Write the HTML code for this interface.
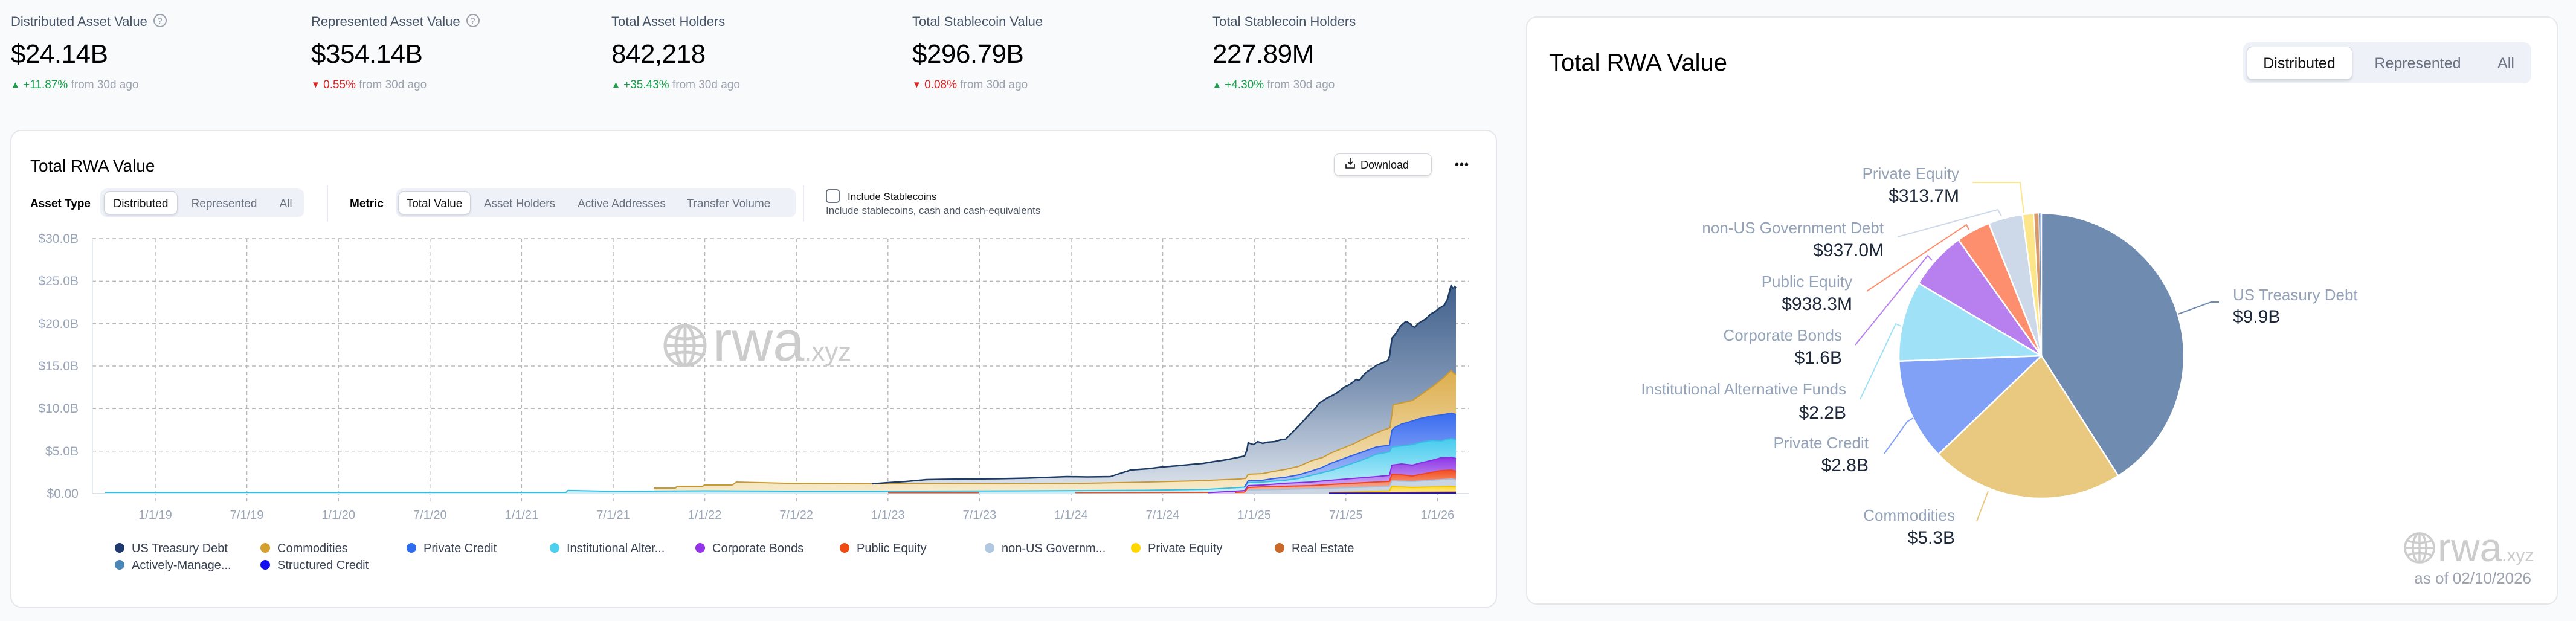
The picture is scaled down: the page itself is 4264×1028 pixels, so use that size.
<!DOCTYPE html>
<html><head><meta charset="utf-8">
<style>
*{margin:0;padding:0;box-sizing:border-box}
html,body{width:4264px;height:1028px;overflow:hidden;background:#f8fafc;font-family:"Liberation Sans",Arial,sans-serif}
.a{position:absolute;white-space:nowrap;line-height:1}
.lbl{font-size:22px;color:#475569}
.val{font-size:44px;color:#000;letter-spacing:-0.5px}
.chg{font-size:19px;color:#9ca3af}
.up{color:#16a34a}.dn{color:#dc2626}
.tri{font-size:15px;position:relative;top:-1px}
.card{position:absolute;background:#fff;border:2px solid #e5e7eb;border-radius:18px}
.q{display:inline-block;width:22px;height:22px;border:2px solid #9ca3af;border-radius:50%;font-size:14px;line-height:18px;text-align:center;color:#9ca3af;vertical-align:middle;margin-left:10px;position:relative;top:-3px}
.grp{position:absolute;background:#eef2f8;border-radius:12px}
.btn{position:absolute;background:#fff;border:1.5px solid #cfd5dd;border-radius:9px;box-shadow:0 2px 3px rgba(0,0,0,.12)}
.t19{font-size:19px}
.c{transform:translateX(-50%)}
.gray{color:#6b7280}
</style></head><body>

<!-- top stats -->
<div class="a lbl" style="left:18px;top:25px">Distributed Asset Value<span class="q">?</span></div>
<div class="a val" style="left:18px;top:68px">$24.14B</div>
<div class="a chg" style="left:18px;top:131px"><span class="up"><span class="tri">▲</span> +11.87%</span> from 30d ago</div>

<div class="a lbl" style="left:515px;top:25px">Represented Asset Value<span class="q">?</span></div>
<div class="a val" style="left:515px;top:68px">$354.14B</div>
<div class="a chg" style="left:515px;top:131px"><span class="dn"><span class="tri">▼</span> 0.55%</span> from 30d ago</div>

<div class="a lbl" style="left:1012px;top:25px">Total Asset Holders</div>
<div class="a val" style="left:1012px;top:68px">842,218</div>
<div class="a chg" style="left:1012px;top:131px"><span class="up"><span class="tri">▲</span> +35.43%</span> from 30d ago</div>

<div class="a lbl" style="left:1510px;top:25px">Total Stablecoin Value</div>
<div class="a val" style="left:1510px;top:68px">$296.79B</div>
<div class="a chg" style="left:1510px;top:131px"><span class="dn"><span class="tri">▼</span> 0.08%</span> from 30d ago</div>

<div class="a lbl" style="left:2007px;top:25px">Total Stablecoin Holders</div>
<div class="a val" style="left:2007px;top:68px">227.89M</div>
<div class="a chg" style="left:2007px;top:131px"><span class="up"><span class="tri">▲</span> +4.30%</span> from 30d ago</div>

<!-- cards -->
<div class="card" style="left:17px;top:215px;width:2461px;height:791px"></div>
<div class="card" style="left:2526px;top:27px;width:1708px;height:974px"></div>

<!-- left card header -->
<div class="a" style="left:50px;top:261px;font-size:28px;color:#000">Total RWA Value</div>

<div class="a t19" style="left:50px;top:328px;font-weight:bold;color:#000">Asset Type</div>
<div class="grp" style="left:166px;top:312px;width:338px;height:48px"></div>
<div class="btn" style="left:172px;top:317px;width:122px;height:38px"></div>
<div class="a t19 c" style="left:233px;top:328px;color:#111">Distributed</div>
<div class="a t19 c gray" style="left:371px;top:328px">Represented</div>
<div class="a t19 c gray" style="left:473px;top:328px">All</div>

<div class="a" style="left:541px;top:307px;width:2px;height:60px;background:#e8ebf0"></div>

<div class="a t19" style="left:579px;top:328px;font-weight:bold;color:#000">Metric</div>
<div class="grp" style="left:655px;top:312px;width:663px;height:48px"></div>
<div class="btn" style="left:659px;top:317px;width:120px;height:38px"></div>
<div class="a t19 c" style="left:719px;top:328px;color:#111">Total Value</div>
<div class="a t19 c gray" style="left:860px;top:328px">Asset Holders</div>
<div class="a t19 c gray" style="left:1029px;top:328px">Active Addresses</div>
<div class="a t19 c gray" style="left:1206px;top:328px">Transfer Volume</div>

<div class="a" style="left:1329px;top:307px;width:2px;height:60px;background:#e8ebf0"></div>
<div class="a" style="left:1367px;top:313px;width:23px;height:23px;border:2px solid #6b7280;border-radius:5px;background:#fff"></div>
<div class="a" style="left:1403px;top:317px;font-size:17px;color:#111">Include Stablecoins</div>
<div class="a" style="left:1367px;top:340px;font-size:17px;color:#4b5563">Include stablecoins, cash and cash-equivalents</div>

<div class="btn" style="left:2208px;top:254px;width:162px;height:37px"></div>
<div class="a" style="left:2252px;top:264px;font-size:18px;color:#111">Download</div>
<svg class="a" style="left:2226px;top:261px" width="18" height="20" viewBox="0 0 18 20"><path d="M9 1v10M5 7l4 4 4-4M2 11v6h14v-6" fill="none" stroke="#111" stroke-width="1.6"/></svg>
<div class="a" style="left:2408px;top:263px;font-size:20px;color:#111;letter-spacing:1px">•••</div>

<!-- right card header -->
<div class="a" style="left:2564px;top:84px;font-size:40px;color:#000">Total RWA Value</div>
<div class="grp" style="left:3713px;top:70px;width:477px;height:68px"></div>
<div class="btn" style="left:3719px;top:77px;width:175px;height:55px"></div>
<div class="a c" style="left:3806px;top:93px;font-size:25px;color:#111">Distributed</div>
<div class="a c gray" style="left:4002px;top:93px;font-size:25px">Represented</div>
<div class="a c gray" style="left:4148px;top:93px;font-size:25px">All</div>

<svg class="a" style="left:0;top:0" width="4264" height="1028" viewBox="0 0 4264 1028" font-family="Liberation Sans, Arial, sans-serif">
<defs>
<linearGradient id="gT" gradientUnits="userSpaceOnUse" x1="0" y1="470" x2="0" y2="817">
<stop offset="0" stop-color="#3f5f8b"/><stop offset="0.5" stop-color="#8197b6"/><stop offset="1" stop-color="#e0e6ee"/></linearGradient>
<linearGradient id="gC" gradientUnits="userSpaceOnUse" x1="0" y1="610" x2="0" y2="817">
<stop offset="0" stop-color="#dcad4c"/><stop offset="1" stop-color="#f8ebcb"/></linearGradient>
<linearGradient id="gP" gradientUnits="userSpaceOnUse" x1="0" y1="685" x2="0" y2="817">
<stop offset="0" stop-color="#3a6cf0"/><stop offset="1" stop-color="#bccdfa"/></linearGradient>
<linearGradient id="gI" gradientUnits="userSpaceOnUse" x1="0" y1="725" x2="0" y2="817">
<stop offset="0" stop-color="#45cbee"/><stop offset="1" stop-color="#c9f0fa"/></linearGradient>
<linearGradient id="gU" gradientUnits="userSpaceOnUse" x1="0" y1="757" x2="0" y2="817">
<stop offset="0" stop-color="#8e35e6"/><stop offset="1" stop-color="#dfc6f6"/></linearGradient>
<linearGradient id="gR" gradientUnits="userSpaceOnUse" x1="0" y1="778" x2="0" y2="817">
<stop offset="0" stop-color="#f24d1e"/><stop offset="1" stop-color="#f9c6b4"/></linearGradient>
<linearGradient id="gE" gradientUnits="userSpaceOnUse" x1="0" y1="805" x2="0" y2="817">
<stop offset="0" stop-color="#ffd62e"/><stop offset="1" stop-color="#fff0a6"/></linearGradient>
</defs>

<!-- grid -->
<g stroke="#b8b8b8" stroke-width="1.4" stroke-dasharray="6 5" fill="none">
<path d="M153,395H2432M153,465.3H2432M153,535.7H2432M153,606H2432M153,676.3H2432M153,746.7H2432"/>
<path d="M257,395V832M408.6,395V832M560.2,395V832M711.8,395V832M863.4,395V832M1015,395V832M1166.6,395V832M1318.2,395V832M1469.8,395V832M1621.4,395V832M1773,395V832M1924.6,395V832M2076.2,395V832M2227.8,395V832M2379.4,395V832"/>
</g>
<path d="M153,395V817" stroke="#dbe6f0" stroke-width="1.5"/>
<path d="M153,817H2432" stroke="#dde2e8" stroke-width="2"/>

<!-- watermark -->
<g stroke="#cdcdcd" stroke-width="5" fill="none">
<circle cx="1134" cy="572" r="33"/>
<ellipse cx="1134" cy="572" rx="15" ry="33"/>
<path d="M1134,539V605M1101,572H1167M1106,556Q1134,566 1162,556M1106,588Q1134,578 1162,588"/>
</g>
<text x="1180" y="597" font-size="94" fill="#cccccc">rwa</text>
<text x="1331" y="597" font-size="44" fill="#cccccc">.xyz</text>

<!-- y labels -->
<g font-size="21" fill="#9aa6b8" text-anchor="end">
<text x="130" y="402">$30.0B</text>
<text x="130" y="472">$25.0B</text>
<text x="130" y="543">$20.0B</text>
<text x="130" y="613">$15.0B</text>
<text x="130" y="683">$10.0B</text>
<text x="130" y="754">$5.0B</text>
<text x="130" y="824">$0.00</text>
</g>
<!-- x labels -->
<g font-size="20" fill="#9aa6b8" text-anchor="middle">
<text x="257" y="859">1/1/19</text><text x="408.6" y="859">7/1/19</text><text x="560.2" y="859">1/1/20</text><text x="711.8" y="859">7/1/20</text><text x="863.4" y="859">1/1/21</text><text x="1015" y="859">7/1/21</text><text x="1166.6" y="859">1/1/22</text><text x="1318.2" y="859">7/1/22</text><text x="1469.8" y="859">1/1/23</text><text x="1621.4" y="859">7/1/23</text><text x="1773" y="859">1/1/24</text><text x="1924.6" y="859">7/1/24</text><text x="2076.2" y="859">1/1/25</text><text x="2227.8" y="859">7/1/25</text><text x="2379.4" y="859">1/1/26</text>
</g>

<!-- areas -->
<path fill="url(#gT)" d="M1082,817 L1082,808 1118,808 1121,805 1163,805 1166,803 1212,803 1219,798 1260,799 1300,800 1380,800.5 1443,801 1470,799 1500,797 1533,794 1560,793.5 1600,793 1650,792.5 1700,791.5 1740,790 1766,789 1800,789.5 1838,789 1850,785 1872,778 1900,776 1924,773 1950,771 1970,769 1992,767 2010,764 2030,761 2045,758 2060,755 2064,745 2066,733 2075,736 2082,731 2090,734 2098,732 2110,731 2120,728 2128,727 2135,720 2142,713 2150,705 2160,694 2170,683 2177,676 2184,667 2195,660 2205,655 2215,649 2225,641 2233,637 2240,632 2245,628 2250,630 2256,622 2263,615 2271,610 2280,604 2290,600 2297,597 2300,590 2304,560 2310,553 2318,540 2327,532 2333,535 2338,540 2342,542 2347,536 2353,532 2360,528 2368,520 2375,516 2383,510 2391,505 2396,495 2400,480 2402,472 2405,478 2408,474 2410,477 L2410,817 Z"/>
<path fill="url(#gC)" d="M1082,817 L1082,808 1118,808 1121,805 1163,805 1166,803 1212,803 1219,798 1260,799 1300,800 1443,801 1533,800.5 1700,801 1800,800 1902,798 1980,796 2052,793 2062,792 2066,785 2090,784 2110,780 2128,777 2150,772 2170,763 2190,757 2203,750 2220,743 2240,735 2256,727 2275,718 2290,712 2301,708 2306,670 2320,667 2338,663 2350,655 2361,647 2375,637 2390,625 2402,613 2406,618 2410,620 L2410,817 Z"/>
<path fill="url(#gP)" d="M2055,817 L2055,807 2060,806 2066,796 2090,795 2110,792 2128,790 2150,786 2170,780 2188,774 2203,767 2230,757 2256,748 2278,740 2300,737 2304,712 2308,708 2320,702 2338,697 2350,693 2368,689 2385,687 2402,684 2410,686 L2410,817 Z"/>
<path fill="url(#gI)" d="M174,817 L174,815 937,815 940,811.7 1010,813.3 1166,812.5 1300,813 1500,813 1700,812.5 1900,811.5 2000,810 2052,807 2060,806.5 2066,799 2090,798 2128,795 2150,792 2170,787 2203,779 2230,770 2256,761 2278,752 2300,748 2304,740 2320,738 2338,736 2353,732 2370,729 2385,730 2402,726 2410,728 L2410,817 Z"/>
<path fill="url(#gU)" d="M2000,817 L2000,815.5 2045,813 2060,812 2066,804 2090,803 2128,800 2170,798 2203,795 2240,792 2278,789 2300,787 2304,770 2320,768 2338,770 2353,766 2370,762 2385,758 2402,757 2410,759 L2410,817 Z"/>
<path fill="url(#gR)" d="M2045,817 L2045,815 2060,814.5 2066,807 2090,806 2128,805 2170,804 2203,802 2240,800 2278,798 2300,797 2304,785 2320,786 2338,788 2353,785 2370,782 2385,779 2402,778 2410,780 L2410,817 Z"/>
<path fill="#c9d5e3" d="M2060,817 L2060,816 2066,811 2128,810 2203,808 2278,806 2300,805 2304,796 2338,797 2370,795 2402,793 2410,794 L2410,817 Z"/>
<path fill="url(#gE)" d="M2200,817 L2200,815.5 2278,813 2300,812.5 2304,805 2338,807 2370,806 2402,805 2410,806 L2410,817 Z"/>

<!-- lines -->
<g fill="none" stroke-width="2" stroke-linejoin="round">
<polyline stroke="#38bde0" points="174,815 937,815 940,811.7 1010,813.3 1166,812.5 1300,813 1500,813 1700,812.5 1900,811.5 2000,810 2052,807 2060,806.5 2066,799 2090,798 2128,795 2150,792 2170,787 2203,779 2230,770 2256,761 2278,752 2300,748 2304,740 2320,738 2338,736 2353,732 2370,729 2385,730 2402,726 2410,728"/>
<polyline stroke="#c99a34" points="1082,808 1118,808 1121,805 1163,805 1166,803 1212,803 1219,798 1260,799 1300,800 1443,801 1533,800.5 1700,801 1800,800 1902,798 1980,796 2052,793 2062,792 2066,785 2090,784 2110,780 2128,777 2150,772 2170,763 2190,757 2203,750 2220,743 2240,735 2256,727 2275,718 2290,712 2301,708 2306,670 2320,667 2338,663 2350,655 2361,647 2375,637 2390,625 2402,613 2406,618 2410,620"/>
<polyline stroke="#1d3b63" stroke-width="2.5" points="1443,801 1470,799 1500,797 1533,794 1560,793.5 1600,793 1650,792.5 1700,791.5 1740,790 1766,789 1800,789.5 1838,789 1850,785 1872,778 1900,776 1924,773 1950,771 1970,769 1992,767 2010,764 2030,761 2045,758 2060,755 2064,745 2066,733 2075,736 2082,731 2090,734 2098,732 2110,731 2120,728 2128,727 2135,720 2142,713 2150,705 2160,694 2170,683 2177,676 2184,667 2195,660 2205,655 2215,649 2225,641 2233,637 2240,632 2245,628 2250,630 2256,622 2263,615 2271,610 2280,604 2290,600 2297,597 2300,590 2304,560 2310,553 2318,540 2327,532 2333,535 2338,540 2342,542 2347,536 2353,532 2360,528 2368,520 2375,516 2383,510 2391,505 2396,495 2400,480 2402,472 2405,478 2408,474 2410,477"/>
<polyline stroke="#2f62e8" points="2060,806 2066,796 2090,795 2110,792 2128,790 2150,786 2170,780 2188,774 2203,767 2230,757 2256,748 2278,740 2300,737 2304,712 2308,708 2320,702 2338,697 2350,693 2368,689 2385,687 2402,684 2410,686"/>
<polyline stroke="#8a2be2" points="2000,815.5 2045,813 2060,812 2066,804 2090,803 2128,800 2170,798 2203,795 2240,792 2278,789 2300,787 2304,770 2320,768 2338,770 2353,766 2370,762 2385,758 2402,757 2410,759"/>
<polyline stroke="#ee4420" points="2045,815 2060,814.5 2066,807 2090,806 2128,805 2170,804 2203,802 2240,800 2278,798 2300,797 2304,785 2320,786 2338,788 2353,785 2370,782 2385,779 2402,778 2410,780"/>
<polyline stroke="#aabfd8" points="2066,811 2128,810 2203,808 2278,806 2300,805 2304,796 2338,797 2370,795 2402,793 2410,794"/>
<polyline stroke="#f5c800" points="2200,815.5 2278,813 2300,812.5 2304,805 2338,807 2370,806 2402,805 2410,806"/>
<polyline stroke="#c8692a" points="2200,815.5 2410,814.5"/>
<polyline stroke="#1010f0" points="2200,816.5 2410,816"/>
<polyline stroke="#e0532c" points="1470,815.5 1620,815.5"/>
<polyline stroke="#e0532c" points="1780,815.5 2000,815"/>
</g>

<!-- legend -->
<g font-size="20" fill="#374151">
<circle cx="198" cy="907" r="8" fill="#1e3a6e"/><text x="218" y="914">US Treasury Debt</text>
<circle cx="439" cy="907" r="8" fill="#d4a030"/><text x="459" y="914">Commodities</text>
<circle cx="681" cy="907" r="8" fill="#2f6bef"/><text x="701" y="914">Private Credit</text>
<circle cx="918" cy="907" r="8" fill="#4dcfee"/><text x="938" y="914">Institutional Alter...</text>
<circle cx="1159" cy="907" r="8" fill="#9333ea"/><text x="1179" y="914">Corporate Bonds</text>
<circle cx="1398" cy="907" r="8" fill="#ee4b14"/><text x="1418" y="914">Public Equity</text>
<circle cx="1638" cy="907" r="8" fill="#b0c8e0"/><text x="1658" y="914">non-US Governm...</text>
<circle cx="1880" cy="907" r="8" fill="#ffd600"/><text x="1900" y="914">Private Equity</text>
<circle cx="2118" cy="907" r="8" fill="#c8692a"/><text x="2138" y="914">Real Estate</text>
<circle cx="198" cy="935" r="8" fill="#4a86b5"/><text x="218" y="942">Actively-Manage...</text>
<circle cx="439" cy="935" r="8" fill="#1010f0"/><text x="459" y="942">Structured Credit</text>
</g>

<!-- pie -->
<g stroke="#fff" stroke-width="2.5" stroke-linejoin="round">
<path fill="#6f8bb0" d="M3379,589 L3379,353 A236,236 0 0 1 3506.4,787.7 Z"/>
<path fill="#e9c980" d="M3379,589 L3506.4,787.7 A236,236 0 0 1 3208.6,752.2 Z"/>
<path fill="#81a1f7" d="M3379,589 L3208.6,752.2 A236,236 0 0 1 3143.2,597.7 Z"/>
<path fill="#9fe1f6" d="M3379,589 L3143.2,597.7 A236,236 0 0 1 3175.9,468.8 Z"/>
<path fill="#b880ef" d="M3379,589 L3175.9,468.8 A236,236 0 0 1 3241.8,397 Z"/>
<path fill="#fd8f6f" d="M3379,589 L3241.8,397 A236,236 0 0 1 3292.1,369.6 Z"/>
<path fill="#cdd9e8" d="M3379,589 L3292.1,369.6 A236,236 0 0 1 3347.6,355.1 Z"/>
<path fill="#fde68a" d="M3379,589 L3347.6,355.1 A236,236 0 0 1 3366.7,353.3 Z"/>
<path fill="#d9996b" stroke-width="1" d="M3379,589 L3366.7,353.3 A236,236 0 0 1 3374.7,353 Z"/>
<path fill="#7096ba" stroke-width="0.5" d="M3379,589 L3374.7,353 A236,236 0 0 1 3377.8,353 Z"/>
<path fill="#6b6bf5" stroke-width="0.5" d="M3379,589 L3377.8,353 A236,236 0 0 1 3379,353 Z"/>
</g>
<g fill="none" stroke-width="2">
<polyline stroke="#fde68a" points="3350,353 3344,302 3265,302"/>
<polyline stroke="#cdd9e8" points="3313,358 3307,347 3141,392"/>
<polyline stroke="#fd8f6f" points="3259,380 3255,372 3090,482"/>
<polyline stroke="#b880ef" points="3198,431 3191,423 3071,571"/>
<polyline stroke="#9fe1f6" points="3147,540 3138,536 3079,661"/>
<polyline stroke="#81a1f7" points="3167,692 3157,698 3119,751"/>
<polyline stroke="#e9c980" points="3291,813 3272,863"/>
<polyline stroke="#6f8bb0" points="3605,520 3660,500 3673,500"/>
</g>
<g text-anchor="end">
<text x="3243" y="296" font-size="26" fill="#94a3b8">Private Equity</text>
<text x="3243" y="334" font-size="30" fill="#1e293b">$313.7M</text>
<text x="3118" y="386" font-size="26" fill="#94a3b8">non-US Government Debt</text>
<text x="3118" y="424" font-size="30" fill="#1e293b">$937.0M</text>
<text x="3066" y="475" font-size="26" fill="#94a3b8">Public Equity</text>
<text x="3066" y="513" font-size="30" fill="#1e293b">$938.3M</text>
<text x="3049" y="564" font-size="26" fill="#94a3b8">Corporate Bonds</text>
<text x="3049" y="602" font-size="30" fill="#1e293b">$1.6B</text>
<text x="3056" y="653" font-size="26" fill="#94a3b8">Institutional Alternative Funds</text>
<text x="3056" y="693" font-size="30" fill="#1e293b">$2.2B</text>
<text x="3093" y="742" font-size="26" fill="#94a3b8">Private Credit</text>
<text x="3093" y="780" font-size="30" fill="#1e293b">$2.8B</text>
<text x="3236" y="862" font-size="26" fill="#94a3b8">Commodities</text>
<text x="3236" y="900" font-size="30" fill="#1e293b">$5.3B</text>
</g>
<text x="3696" y="497" font-size="26" fill="#94a3b8">US Treasury Debt</text>
<text x="3696" y="534" font-size="30" fill="#1e293b">$9.9B</text>

<!-- bottom-right logo -->
<g stroke="#cdcdcd" stroke-width="3.5" fill="none">
<circle cx="4005" cy="907" r="24"/>
<ellipse cx="4005" cy="907" rx="11" ry="24"/>
<path d="M4005,883V931M3981,907H4029M3985,895Q4005,902 4025,895M3985,919Q4005,912 4025,919"/>
</g>
<text x="4035" y="929" font-size="66" fill="#cccccc">rwa</text>
<text x="4141" y="929" font-size="30" fill="#cccccc">.xyz</text>
<text x="4190" y="966" font-size="26" fill="#9ca3af" text-anchor="end">as of 02/10/2026</text>
</svg>
</body></html>
